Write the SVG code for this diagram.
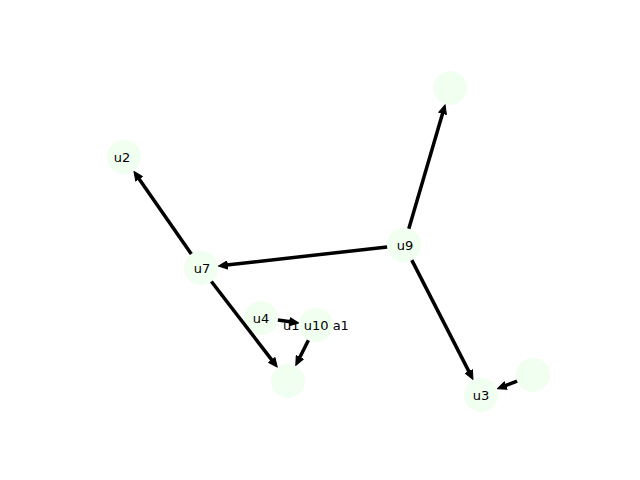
<svg xmlns="http://www.w3.org/2000/svg" width="640" height="480" viewBox="0 0 640 480">
<style>
.node circle { fill: #f0fff0; }
.node text { font-family: "DejaVu Sans", sans-serif; font-size: 13px; fill: #000; text-anchor: middle; dominant-baseline: central; }
.edges line { stroke: #000; stroke-width: 3.5; fill: none; marker-end: url(#ah); }
</style>
<defs>
<marker id="ah" viewBox="0 0 10 9" refX="1" refY="4.5" markerWidth="10" markerHeight="9" markerUnits="userSpaceOnUse" orient="auto">
<path d="M0.5,0.5 L9.5,4.5 L0.5,8.5 z" fill="#000" stroke="#000" stroke-width="1" stroke-linejoin="round"/>
</marker>
</defs>
<rect width="640" height="480" fill="#fff"/>
<g id="n-u2" class="node"><circle cx="124" cy="157" r="17"/><text x="122" y="157">u2</text></g>
<g id="n-u7" class="node"><circle cx="201" cy="268" r="17"/><text x="202" y="268">u7</text></g>
<g id="n-u9" class="node"><circle cx="404" cy="245" r="17"/><text x="405" y="245">u9</text></g>
<g id="n-top" class="node"><circle cx="450" cy="88" r="17"/></g>
<g id="n-u3" class="node"><circle cx="481" cy="395" r="17"/><text x="481" y="395">u3</text></g>
<g id="n-right" class="node"><circle cx="533" cy="375" r="17"/></g>
<g id="n-u4" class="node"><circle cx="261" cy="318" r="17"/><text x="261" y="318">u4</text></g>
<g id="n-u10" class="node"><circle cx="316" cy="325" r="17"/><text x="316" y="325">u1 u10 a1</text></g>
<g id="n-bottom" class="node"><circle cx="288" cy="381" r="17"/></g>
<g id="edges" class="edges">
<line x1="191.3" y1="254.0" x2="138.8" y2="178.4"/>
<line x1="387.1" y1="246.9" x2="226.8" y2="265.1"/>
<line x1="408.8" y1="228.7" x2="442.7" y2="112.9"/>
<line x1="411.8" y1="260.1" x2="469.1" y2="371.9"/>
<line x1="211.4" y1="281.5" x2="272.1" y2="360.4"/>
<line x1="308.4" y1="340.2" x2="299.6" y2="357.8"/>
<line x1="277.9" y1="320.1" x2="290.2" y2="321.8"/>
<line x1="517.1" y1="381.1" x2="505.3" y2="385.7"/>
</g>
</svg>
